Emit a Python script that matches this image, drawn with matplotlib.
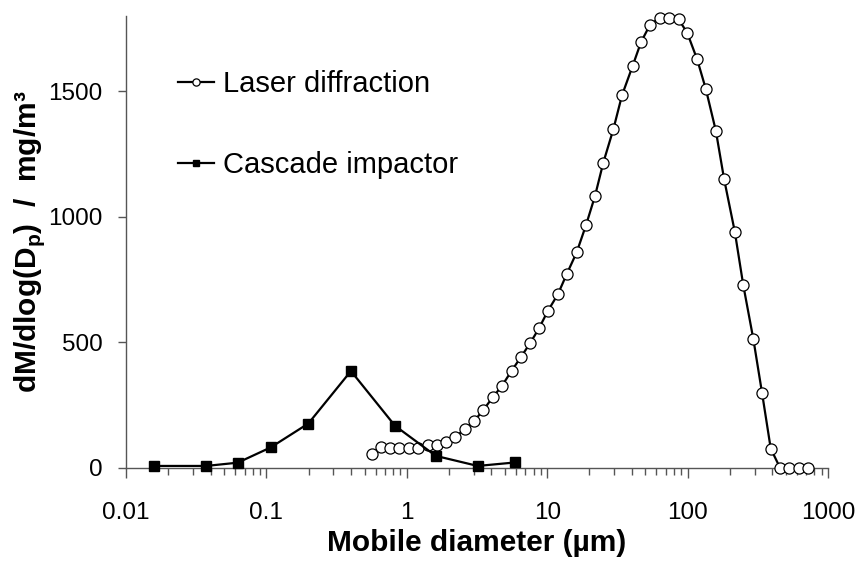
import matplotlib
matplotlib.use("Agg")
import matplotlib.pyplot as plt
from matplotlib.ticker import LogLocator, NullFormatter, FixedLocator

plt.rcParams["font.family"] = ["Liberation Sans", "DejaVu Sans"]
plt.rcParams["mathtext.fontset"] = "custom"
plt.rcParams["mathtext.rm"] = "Liberation Sans"
plt.rcParams["mathtext.bf"] = "Liberation Sans:bold"

# Laser diffraction (um, mg/m3)
laser_d = [0.562, 0.652, 0.759, 0.885, 1.04, 1.21, 1.41, 1.63, 1.89, 2.21,
           2.58, 3.01, 3.51, 4.09, 4.76, 5.58, 6.47, 7.54, 8.74, 10.1,
           11.9, 13.8, 16.2, 18.9, 21.9, 25.1, 29.6, 34.1, 40.6, 46.6,
           54.0, 63.5, 73.3, 86.3, 99.5, 117, 135, 159, 182, 217,
           249, 294, 339, 391, 455, 530, 621, 724]
laser_m = [54, 84, 77, 80, 80, 80, 90, 90, 103, 121,
           154, 185, 230, 280, 326, 386, 439, 495, 555, 624,
           690, 772, 857, 966, 1082, 1215, 1348, 1483, 1600, 1695,
           1764, 1792, 1792, 1786, 1731, 1626, 1507, 1341, 1149, 939,
           728, 512, 298, 76, 0, 0, 0, 0]

# Cascade impactor
casc_d = [0.0159, 0.0372, 0.0625, 0.1075, 0.199, 0.40, 0.824, 1.61, 3.2, 5.93]
casc_m = [7, 7, 20, 81, 176, 385, 167, 47, 7, 21]

AX_COL = "#555555"

fig = plt.figure(figsize=(8.58, 5.63), dpi=100)
ax = fig.add_axes([126 / 858, 95.3 / 563, 702 / 858, 452 / 563])

ax.plot(laser_d, laser_m, color="black", lw=1.6, marker="o", ms=8,
        mfc="white", mec="black", mew=0.9, clip_on=False, zorder=3,
        label="Laser diffraction")
ax.plot(casc_d, casc_m, color="black", lw=1.6, marker="s", ms=6.5,
        mfc="black", mec="black", clip_on=False, zorder=4,
        label="Cascade impactor")

ax.set_xscale("log")
ax.set_xlim(0.01, 1000)
ax.set_ylim(0, 1800)
ax.xaxis.set_major_locator(FixedLocator([0.01, 0.1, 1, 10, 100, 1000]))
ax.set_xticklabels(["0.01", "0.1", "1", "10", "100", "1000"])
ax.xaxis.set_minor_locator(LogLocator(base=10, subs=range(2, 10), numticks=20))
ax.xaxis.set_minor_formatter(NullFormatter())
ax.set_yticks([0, 500, 1000, 1500])

for s in ("top", "right"):
    ax.spines[s].set_visible(False)
for s in ("left", "bottom"):
    ax.spines[s].set_color(AX_COL)
    ax.spines[s].set_linewidth(1.0)

ax.tick_params(axis="x", which="major", direction="out", length=7.5, width=1,
               color=AX_COL, labelsize=17.5, pad=17)
ax.tick_params(axis="x", which="minor", direction="out", length=5, width=1,
               color=AX_COL)
ax.tick_params(axis="y", direction="out", length=6, width=1, color=AX_COL,
               labelsize=17.5, pad=11)

ax.set_xlabel("Mobile diameter (µm)", fontsize=21.5, fontweight="bold",
              labelpad=4)
ax.set_ylabel(r"dM/dlog(D$_\mathbf{p}$)  /  mg/m³", fontsize=21.5,
              fontweight="bold")
ax.yaxis.set_label_coords(-0.113, 0.5)

ax.legend(loc="upper left", bbox_to_anchor=(0.057, 0.905), frameon=False,
          fontsize=21, handlelength=1.25, handletextpad=0.3, labelspacing=1.8,
          markerscale=0.65, borderaxespad=0)

fig.savefig("out.png", dpi=100)
